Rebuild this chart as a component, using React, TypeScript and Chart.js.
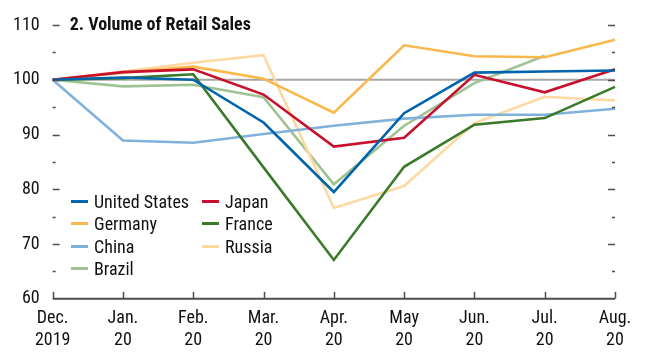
import React, { useEffect, useRef } from "react";
import { Chart, registerables } from "chart.js";

Chart.register(...registerables);

const FONT = "'Liberation Sans Narrow', 'Arial Narrow', 'Roboto Condensed', 'Liberation Sans', sans-serif";

const categories: string[][] = [
  ["Dec.", "2019"], ["Jan.", "20"], ["Feb.", "20"], ["Mar.", "20"], ["Apr.", "20"],
  ["May", "20"], ["Jun.", "20"], ["Jul.", "20"], ["Aug.", "20"],
];

const unitedStates = [100, 100.4, 100.0, 92.2, 79.5, 93.9, 101.3, 101.5, 101.7];
const japan = [100, 101.4, 101.9, 97.3, 87.8, 89.4, 100.9, 97.7, 101.9];
const germany = [100, 101.3, 102.4, 100.2, 94.0, 106.3, 104.3, 104.1, 107.3];
const france = [100, 100.3, 101.0, 84.0, 67.1, 84.1, 91.8, 93.0, 98.7];
const china = [100, 88.9, 88.5, 90.1, 91.6, 92.9, 93.6, 93.6, 94.7];
const russia = [100, 101.5, 103.1, 104.5, 76.6, 80.6, 92.1, 96.9, 96.2];
const brazil: (number | null)[] = [100, 98.8, 99.1, 96.8, 80.9, 91.6, 99.4, 104.4, null];

const yTicks = [60, 65, 70, 75, 80, 85, 90, 95, 100, 105, 110];

const series = [
  { label: "United States", data: unitedStates, color: "#0063ad" },
  { label: "Japan", data: japan, color: "#c8102e" },
  { label: "Germany", data: germany, color: "#f9b84b" },
  { label: "France", data: france, color: "#3a7a2a" },
  { label: "China", data: china, color: "#80b1db" },
  { label: "Russia", data: russia, color: "#fed9a2" },
  { label: "Brazil", data: brazil, color: "#9fc393" },
];

const legendLayout = [
  { i: 0, col: 0, row: 0 }, { i: 1, col: 1, row: 0 },
  { i: 2, col: 0, row: 1 }, { i: 3, col: 1, row: 1 },
  { i: 4, col: 0, row: 2 }, { i: 5, col: 1, row: 2 },
  { i: 6, col: 0, row: 3 },
];

const customAxes = {
  id: "customAxes",
  beforeDatasetsDraw(chart: any) {
    const { ctx, chartArea, scales } = chart;
    const y = scales.y;
    const py = y.getPixelForValue(100);
    ctx.save();
    ctx.strokeStyle = "#a6a6a6";
    ctx.lineWidth = 2;
    ctx.beginPath();
    ctx.moveTo(chartArea.left, py);
    ctx.lineTo(chartArea.right, py);
    ctx.stroke();
    ctx.restore();
  },
  afterDraw(chart: any) {
    const { ctx, chartArea, scales } = chart;
    const y = scales.y;
    const x = scales.x;
    ctx.save();
    ctx.strokeStyle = "#4d4d4d";
    ctx.lineWidth = 1.5;
    yTicks.forEach((v) => {
      if (v === 60) return;
      const p = Math.round(y.getPixelForValue(v)) + 0.5;
      const len = v % 10 === 0 ? 7 : 3;
      ctx.beginPath();
      ctx.moveTo(chartArea.left, p);
      ctx.lineTo(chartArea.left + len, p);
      ctx.moveTo(chartArea.right, p);
      ctx.lineTo(chartArea.right - len, p);
      ctx.stroke();
    });
    const by = y.getPixelForValue(60);
    ctx.lineWidth = 2;
    ctx.beginPath();
    ctx.moveTo(chartArea.left, by);
    ctx.lineTo(chartArea.right, by);
    ctx.stroke();
    ctx.lineWidth = 1.5;
    categories.forEach((_, i) => {
      const px = Math.round(x.getPixelForValue(i)) + 0.5;
      ctx.beginPath();
      ctx.moveTo(px, by);
      ctx.lineTo(px, by - 7);
      ctx.stroke();
    });
    ctx.fillStyle = "#111";
    ctx.font = `bold 18px ${FONT}`;
    ctx.textBaseline = "middle";
    ctx.fillText("2. Volume of Retail Sales", chartArea.left + 17, y.getPixelForValue(110));
    ctx.restore();
  },
};

export default function App() {
  const ref = useRef<HTMLCanvasElement | null>(null);
  useEffect(() => {
    if (!ref.current) return;
    const chart = new Chart(ref.current, {
      type: "line",
      data: {
        labels: categories,
        datasets: series.map((s) => ({
          label: s.label,
          data: s.data,
          borderColor: s.color,
          backgroundColor: s.color,
          borderWidth: 2.6,
          pointRadius: 0,
          tension: 0,
          spanGaps: false,
        })),
      },
      options: {
        animation: false,
        responsive: false,
        maintainAspectRatio: false,
        layout: { padding: { left: 8, right: 33, top: 25, bottom: 5 } },
        plugins: { legend: { display: false }, tooltip: { enabled: false } },
        scales: {
          x: {
            offset: false,
            grid: { display: false },
            border: { display: false },
            ticks: {
              color: "#111",
              font: { family: FONT, size: 18 },
              padding: 1,
              maxRotation: 0,
              autoSkip: false,
            },
          },
          y: {
            min: 60,
            max: 110,
            afterBuildTicks: (axis: any) => {
              axis.ticks = yTicks.map((v) => ({ value: v }));
            },
            grid: { display: false },
            border: { display: false },
            ticks: {
              color: "#111",
              font: { family: FONT, size: 18 },
              padding: 5,
              callback: (v: any) => (Number(v) % 10 === 0 ? String(v) : ""),
            },
          },
        },
      },
      plugins: [customAxes],
    });
    return () => chart.destroy();
  }, []);

  return (
    <div style={{ position: "absolute", left: 0, top: 0, width: 648, height: 357, background: "#fff" }}>
      <canvas ref={ref} width={648} height={357} style={{ position: "absolute", left: 0, top: 0 }} />
      {legendLayout.map(({ i, col, row }) => (
        <div
          key={i}
          style={{
            position: "absolute",
            left: col === 0 ? 71 : 202,
            top: 190 + row * 22.6,
            height: 22,
            display: "flex",
            alignItems: "center",
            fontFamily: FONT,
            fontSize: 18,
            color: "#111",
            whiteSpace: "nowrap",
          }}
        >
          <span style={{ display: "inline-block", width: 17, height: 3, background: series[i].color, marginRight: 6 }} />
          {series[i].label}
        </div>
      ))}
    </div>
  );
}
